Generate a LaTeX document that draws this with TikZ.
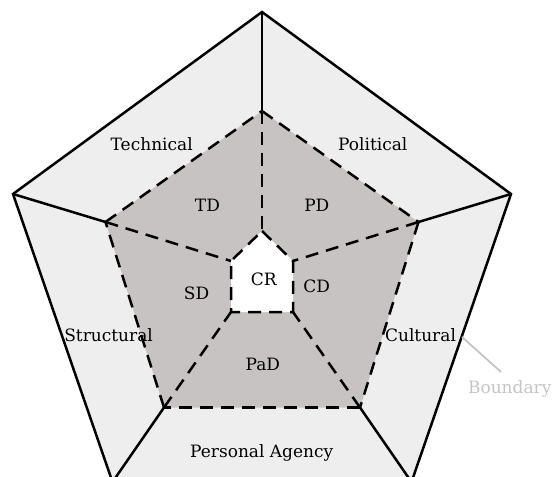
\documentclass[tikz,border=0pt]{standalone}
\usepackage{tikz}
\usepackage{xcolor}
\usepackage{fontspec}
\setmainfont{DejaVu Serif}

\definecolor{ringgray}{RGB}{238,238,238}
\definecolor{domaingray}{RGB}{200,195,195}
\definecolor{boundgray}{RGB}{200,195,195}

\begin{document}
\begin{tikzpicture}[x=1pt, y=-1pt,
  rimline/.style={line width=2.5pt, line join=miter},
  dashline/.style={line width=2.5pt, dash pattern=on 13pt off 8pt},
  lbl/.style={font=\fontsize{17}{20}\selectfont, inner sep=0pt, anchor=base}]

% page frame (bottom of outer pentagon is cut off)
\useasboundingbox (0,0) rectangle (553,476);
\clip (0,0) rectangle (553,476);

% outer corners
\coordinate (o1) at (262,12);
\coordinate (o2) at (511,194);
\coordinate (o3) at (411.5,482);
\coordinate (o4) at (112.5,482);
\coordinate (o5) at (13,194);

% middle corners
\coordinate (m1) at (262,111);
\coordinate (m2) at (418.5,222);
\coordinate (m3) at (360,407.5);
\coordinate (m4) at (164,407.5);
\coordinate (m5) at (105.5,222);

% inner corners (CR)
\coordinate (i1) at (262,231);
\coordinate (i2) at (293,261);
\coordinate (i3) at (293,312);
\coordinate (i4) at (231,312);
\coordinate (i5) at (231,261);

% outer ring
\filldraw[ringgray] (o1) -- (o2) -- (o3) -- (o4) -- (o5) -- cycle;
\draw[rimline] (o1) -- (o2) -- (o3) -- (o4) -- (o5) -- cycle;

% domains
\fill[domaingray] (m1) -- (m2) -- (m3) -- (m4) -- (m5) -- cycle;

% spokes outer -> middle
\draw[rimline] (o1) -- (m1);
\draw[rimline] (o2) -- (m2);
\draw[rimline] (o3) -- (m3);
\draw[rimline] (o4) -- (m4);
\draw[rimline] (o5) -- (m5);

% middle outline
\draw[dashline] (m1) -- (m2);
\draw[dashline] (m2) -- (m3);
\draw[dashline] (m3) -- (m4);
\draw[dashline] (m4) -- (m5);
\draw[dashline] (m5) -- (m1);

% spokes middle -> inner
\draw[dashline] (m1) -- (i1);
\draw[dashline] (m2) -- (i2);
\draw[dashline] (m3) -- (i3);
\draw[dashline] (m4) -- (i4);
\draw[dashline] (m5) -- (i5);

% core
\fill[white] (i1) -- (i2) -- (i3) -- (i4) -- (i5) -- cycle;
\draw[dashline] (i1) -- (i2) -- (i3) -- (i4) -- (i5) -- cycle;

% labels
\node[lbl] (tech) at (151.7,150) {Technical};
\node[lbl] (pol) at (372.8,150) {Political};
\node[lbl] (td) at (207.4,211.7) {TD};
\node[lbl] (pd) at (316.8,211.7) {PD};
\node[lbl] (cr) at (263.8,285) {CR};
\node[lbl] (sd) at (196.5,299.3) {SD};
\node[lbl] (cd) at (316.8,292.7) {CD};
\node[lbl] (struc) at (108.6,341.7) {Structural};
\node[lbl] (cult) at (420.5,341.7) {Cultural};
\node[lbl] (pad) at (262.8,370) {PaD};
\node[lbl] (agency) at (261.7,457.3) {Personal Agency};

% boundary pointer
\coordinate (bstart) at (462,337);
\coordinate (bend) at (501,372);
\node[lbl, text=boundgray] (bnd) at (509.7,393.3) {Boundary};
\draw[boundgray, line width=1.8pt] (bstart) -- (bend);

\end{tikzpicture}
\end{document}
